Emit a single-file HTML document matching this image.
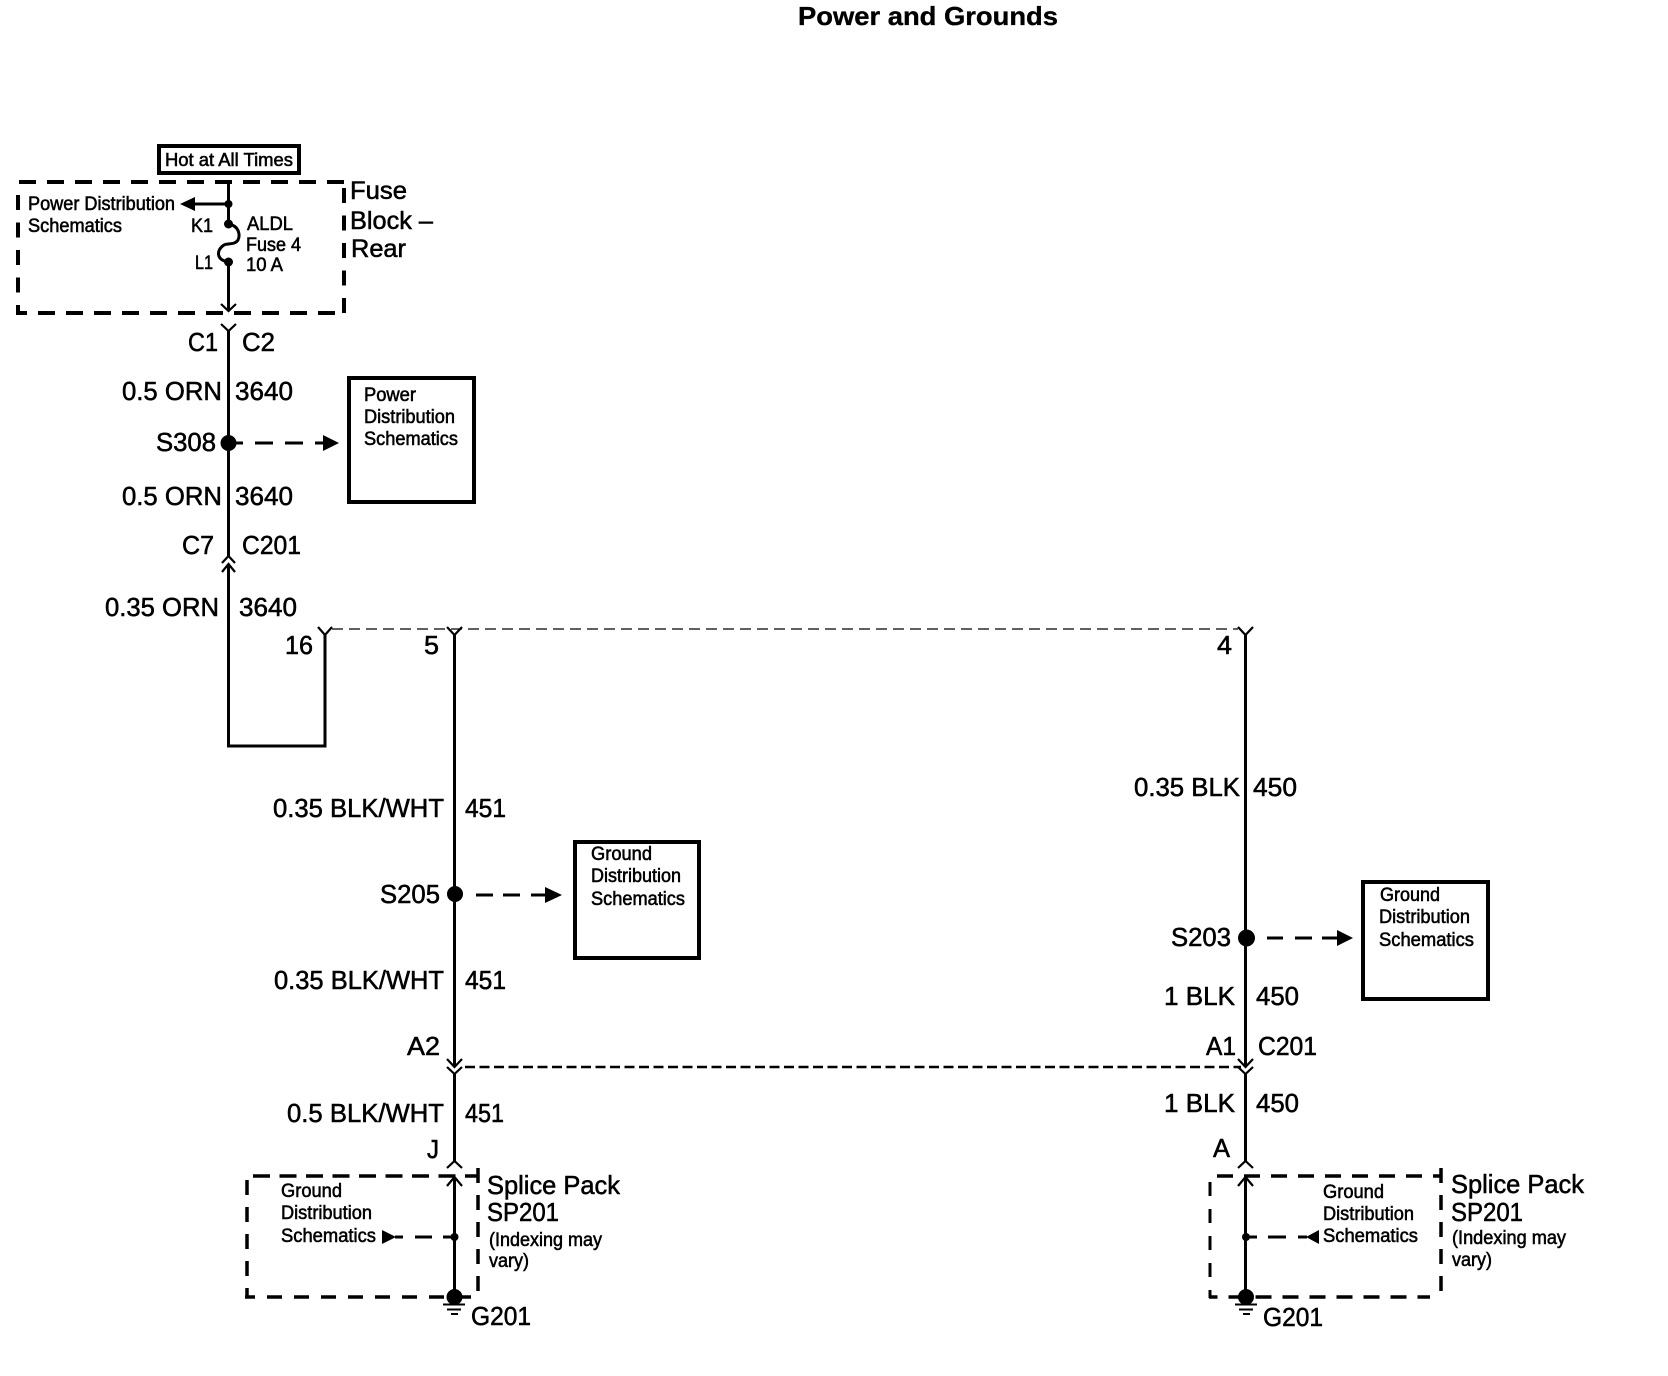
<!DOCTYPE html>
<html><head><meta charset="utf-8"><title>Power and Grounds</title>
<style>
html,body{margin:0;padding:0;background:#fff}
svg{display:block}
text{font-family:"Liberation Sans",sans-serif;fill:#000;stroke:#000;stroke-width:.55}
.s{font-size:18px}.l{font-size:26px}.m{font-size:25px}.n{font-size:19px}
.t{font-size:26px;font-weight:bold;stroke-width:.35}
.w{stroke:#000;stroke-width:3;fill:none}
.c{stroke:#000;stroke-width:2.2;fill:none}
.b{stroke:#000;stroke-width:4;fill:none}
.d{stroke:#000;stroke-width:4;fill:none;stroke-dasharray:17 11}
.e{stroke:#000;stroke-width:3.5;fill:none;stroke-dasharray:16 11}
.a{stroke:#000;stroke-width:3;fill:none}
</style></head><body>
<svg xmlns="http://www.w3.org/2000/svg" width="1668" height="1376" viewBox="0 0 1668 1376">
<rect width="1668" height="1376" fill="#fff"/>
<text class="t" x="798" y="25" textLength="260" lengthAdjust="spacingAndGlyphs">Power and Grounds</text>

<!-- Hot box -->
<rect class="b" x="159" y="146" width="140" height="27"/>
<text class="s" x="165" y="166" textLength="128" lengthAdjust="spacingAndGlyphs">Hot at All Times</text>

<!-- Fuse block dashed -->
<line class="d" x1="19" y1="182" x2="344" y2="182"/>
<line class="d" x1="344" y1="188" x2="344" y2="314" style="stroke-dasharray:15 12.5"/>
<line class="d" x1="18" y1="195" x2="18" y2="314" style="stroke-dasharray:15 12.5"/>
<line class="d" x1="16" y1="313" x2="346" y2="313" style="stroke-dashoffset:6"/>
<text class="n" x="28" y="210" textLength="147" lengthAdjust="spacingAndGlyphs">Power Distribution</text>
<text class="n" x="28" y="232" textLength="94" lengthAdjust="spacingAndGlyphs">Schematics</text>
<text class="n" x="191" y="232" textLength="22" lengthAdjust="spacingAndGlyphs">K1</text>
<text class="n" x="195" y="269" textLength="18" lengthAdjust="spacingAndGlyphs">L1</text>
<text class="n" x="247" y="230" textLength="46" lengthAdjust="spacingAndGlyphs">ALDL</text>
<text class="n" x="246" y="251" textLength="55" lengthAdjust="spacingAndGlyphs">Fuse 4</text>
<text class="n" x="246" y="271" textLength="37" lengthAdjust="spacingAndGlyphs">10 A</text>
<text class="m" x="350" y="199" textLength="57" lengthAdjust="spacingAndGlyphs">Fuse</text>
<text class="m" x="350" y="229" textLength="83" lengthAdjust="spacingAndGlyphs">Block –</text>
<text class="m" x="351" y="257" textLength="55" lengthAdjust="spacingAndGlyphs">Rear</text>

<path class="w" d="M228.500 182V224M228.500 262V311"/>
<path class="w" d="M228.500 224C240 226 240 236 238 240C235 245 228 243 224 245C216 250 216 260 228.500 262"/>
<line class="a" x1="195" y1="204" x2="228" y2="204"/>
<polygon points="180,204 195,197 195,211" fill="#000"/>
<circle cx="228.500" cy="204" r="4"/>
<circle cx="228.500" cy="224" r="4.500"/>
<circle cx="228.500" cy="262" r="4.500"/>
<path class="c" d="M221 304L228.500 311L236 304"/>

<!-- C1 C2 -->
<path class="c" d="M221 324L228.500 331L236 324"/>
<line class="w" x1="228.500" y1="331" x2="228.500" y2="556"/>
<text class="l" x="188" y="351" textLength="30" lengthAdjust="spacingAndGlyphs">C1</text>
<text class="l" x="242" y="351" textLength="33" lengthAdjust="spacingAndGlyphs">C2</text>
<text class="l" x="122" y="400" textLength="100" lengthAdjust="spacingAndGlyphs">0.5 ORN</text>
<text class="l" x="235" y="400" textLength="58" lengthAdjust="spacingAndGlyphs">3640</text>
<text class="l" x="156" y="451" textLength="60" lengthAdjust="spacingAndGlyphs">S308</text>
<circle cx="228.500" cy="443" r="8"/>
<path class="a" d="M236 443H243M255 443H273M285 443H303M315 443H323"/>
<polygon points="323,435 339,443 323,451" fill="#000"/>
<rect class="b" x="349" y="378" width="125" height="124"/>
<text class="n" x="364" y="401" textLength="52" lengthAdjust="spacingAndGlyphs">Power</text>
<text class="n" x="364" y="423" textLength="91" lengthAdjust="spacingAndGlyphs">Distribution</text>
<text class="n" x="364" y="445" textLength="94" lengthAdjust="spacingAndGlyphs">Schematics</text>
<text class="l" x="122" y="505" textLength="100" lengthAdjust="spacingAndGlyphs">0.5 ORN</text>
<text class="l" x="235" y="505" textLength="58" lengthAdjust="spacingAndGlyphs">3640</text>

<!-- C7 -->
<text class="l" x="182" y="554" textLength="32" lengthAdjust="spacingAndGlyphs">C7</text>
<text class="l" x="242" y="554" textLength="59" lengthAdjust="spacingAndGlyphs">C201</text>
<path class="c" d="M222 563L228.500 556L235 563"/>
<path class="c" d="M222 572L228.500 564L235 572"/>
<path class="w" d="M228.500 564V746H325V634"/>
<text class="l" x="105" y="616" textLength="114" lengthAdjust="spacingAndGlyphs">0.35 ORN</text>
<text class="l" x="239" y="616" textLength="58" lengthAdjust="spacingAndGlyphs">3640</text>

<!-- thin dashed -->
<line x1="332" y1="629" x2="1238" y2="629" stroke="#000" stroke-width="1.200" stroke-dasharray="11 6"/>
<path class="c" d="M318 627L325 635L332 627"/>
<path class="c" d="M447 627L454.500 635L462 627"/>
<path class="c" d="M1238 627L1245.500 635L1253 627"/>
<text class="l" x="285" y="654" textLength="28" lengthAdjust="spacingAndGlyphs">16</text>
<text class="l" x="424" y="654" textLength="15" lengthAdjust="spacingAndGlyphs">5</text>
<text class="l" x="1217" y="654" textLength="15" lengthAdjust="spacingAndGlyphs">4</text>

<!-- left wire 451 -->
<line class="w" x1="454.500" y1="635" x2="454.500" y2="1066"/>
<text class="l" x="273" y="817" textLength="171" lengthAdjust="spacingAndGlyphs">0.35 BLK/WHT</text>
<text class="l" x="465" y="817" textLength="41" lengthAdjust="spacingAndGlyphs">451</text>
<text class="l" x="380" y="903" textLength="60" lengthAdjust="spacingAndGlyphs">S205</text>
<circle cx="455" cy="894" r="8"/>
<path class="a" d="M476 895H493M503 895H520M531 895H546"/>
<polygon points="545,887 562,895 545,903" fill="#000"/>
<rect class="b" x="575" y="842" width="124" height="116"/>
<text class="n" x="591" y="860" textLength="61" lengthAdjust="spacingAndGlyphs">Ground</text>
<text class="n" x="591" y="882" textLength="90" lengthAdjust="spacingAndGlyphs">Distribution</text>
<text class="n" x="591" y="905" textLength="94" lengthAdjust="spacingAndGlyphs">Schematics</text>
<text class="l" x="274" y="989" textLength="170" lengthAdjust="spacingAndGlyphs">0.35 BLK/WHT</text>
<text class="l" x="465" y="989" textLength="41" lengthAdjust="spacingAndGlyphs">451</text>
<text class="l" x="407" y="1055" textLength="33" lengthAdjust="spacingAndGlyphs">A2</text>

<!-- C201 dashed -->
<line x1="465" y1="1067" x2="1241" y2="1067" stroke="#000" stroke-width="2.500" stroke-dasharray="10 4.500"/>
<path class="c" d="M447 1059L454.500 1067L462 1059"/>
<path class="c" d="M447 1067L454.500 1074L462 1067"/>
<path class="c" d="M1238 1059L1245.500 1067L1253 1059"/>
<path class="c" d="M1238 1067L1245.500 1074L1253 1067"/>

<line class="w" x1="454.500" y1="1074" x2="454.500" y2="1162"/>
<text class="l" x="287" y="1122" textLength="157" lengthAdjust="spacingAndGlyphs">0.5 BLK/WHT</text>
<text class="l" x="465" y="1122" textLength="39" lengthAdjust="spacingAndGlyphs">451</text>
<text class="l" x="427" y="1158" textLength="12" lengthAdjust="spacingAndGlyphs">J</text>
<path class="c" d="M447 1168L454.500 1161L462 1168"/>

<!-- SP201 left -->
<line class="e" x1="253" y1="1176" x2="478" y2="1176" style="stroke-dasharray:17 9.500"/>
<line class="e" x1="478" y1="1168" x2="478" y2="1293" style="stroke-dasharray:15 12;stroke-dashoffset:0"/>
<line class="e" x1="247" y1="1180" x2="247" y2="1298" style="stroke-dasharray:15 12"/>
<line class="e" x1="245" y1="1297" x2="475" y2="1297" style="stroke-dasharray:15 12;stroke-dashoffset:5"/>
<path class="c" d="M447 1186L454.500 1177L462 1186"/>
<line class="w" x1="454.500" y1="1177" x2="454.500" y2="1297"/>
<text class="n" x="281" y="1197" textLength="61" lengthAdjust="spacingAndGlyphs">Ground</text>
<text class="n" x="281" y="1219" textLength="91" lengthAdjust="spacingAndGlyphs">Distribution</text>
<text class="n" x="281" y="1242" textLength="95" lengthAdjust="spacingAndGlyphs">Schematics</text>
<polygon points="382,1230 396,1237 382,1244" fill="#000"/>
<path class="a" d="M395 1237H403M415 1237H432M443 1237H454"/>
<circle cx="454.500" cy="1237" r="4"/>
<circle cx="454.500" cy="1297" r="8"/>
<path d="M443 1304.500H465M447 1309.500H461M451 1314H458" stroke="#000" stroke-width="2" fill="none"/>
<text class="l" x="471" y="1325" textLength="60" lengthAdjust="spacingAndGlyphs">G201</text>
<text class="l" x="487" y="1194" textLength="133" lengthAdjust="spacingAndGlyphs">Splice Pack</text>
<text class="l" x="487" y="1221" textLength="72" lengthAdjust="spacingAndGlyphs">SP201</text>
<text class="n" x="489" y="1246" textLength="113" lengthAdjust="spacingAndGlyphs">(Indexing may</text>
<text class="n" x="489" y="1267" textLength="40" lengthAdjust="spacingAndGlyphs">vary)</text>

<!-- right wire 450 -->
<line class="w" x1="1245.500" y1="635" x2="1245.500" y2="1066"/>
<text class="l" x="1134" y="796" textLength="106" lengthAdjust="spacingAndGlyphs">0.35 BLK</text>
<text class="l" x="1253" y="796" textLength="44" lengthAdjust="spacingAndGlyphs">450</text>
<text class="l" x="1171" y="946" textLength="60" lengthAdjust="spacingAndGlyphs">S203</text>
<circle cx="1246.500" cy="938" r="8.500"/>
<path class="a" d="M1267 938H1283M1295 938H1312M1322 938H1338"/>
<polygon points="1337,930 1353,938 1337,946" fill="#000"/>
<rect class="b" x="1363" y="882" width="125" height="117"/>
<text class="n" x="1380" y="901" textLength="60" lengthAdjust="spacingAndGlyphs">Ground</text>
<text class="n" x="1379" y="923" textLength="91" lengthAdjust="spacingAndGlyphs">Distribution</text>
<text class="n" x="1379" y="946" textLength="95" lengthAdjust="spacingAndGlyphs">Schematics</text>
<text class="l" x="1164" y="1005" textLength="71" lengthAdjust="spacingAndGlyphs">1 BLK</text>
<text class="l" x="1256" y="1005" textLength="43" lengthAdjust="spacingAndGlyphs">450</text>
<text class="l" x="1206" y="1055" textLength="30" lengthAdjust="spacingAndGlyphs">A1</text>
<text class="l" x="1258" y="1055" textLength="59" lengthAdjust="spacingAndGlyphs">C201</text>
<line class="w" x1="1245.500" y1="1074" x2="1245.500" y2="1162"/>
<text class="l" x="1164" y="1112" textLength="71" lengthAdjust="spacingAndGlyphs">1 BLK</text>
<text class="l" x="1256" y="1112" textLength="43" lengthAdjust="spacingAndGlyphs">450</text>
<text class="l" x="1213" y="1157" textLength="17" lengthAdjust="spacingAndGlyphs">A</text>
<path class="c" d="M1238 1168L1245.500 1161L1253 1168"/>

<!-- SP201 right -->
<line class="e" x1="1217" y1="1176" x2="1442" y2="1176"/>
<line class="e" x1="1441" y1="1168" x2="1441" y2="1293" style="stroke-dasharray:15 12"/>
<line x1="1210" y1="1182" x2="1210" y2="1298" stroke="#000" stroke-width="3" stroke-dasharray="14 13"/>
<line class="e" x1="1209" y1="1297" x2="1430" y2="1297" style="stroke-dashoffset:7.500"/>
<path class="c" d="M1238 1186L1245.500 1177L1253 1186"/>
<line class="w" x1="1245.500" y1="1177" x2="1245.500" y2="1297"/>
<text class="n" x="1323" y="1198" textLength="61" lengthAdjust="spacingAndGlyphs">Ground</text>
<text class="n" x="1323" y="1220" textLength="91" lengthAdjust="spacingAndGlyphs">Distribution</text>
<text class="n" x="1323" y="1242" textLength="95" lengthAdjust="spacingAndGlyphs">Schematics</text>
<polygon points="1319,1230 1306,1237 1319,1244" fill="#000"/>
<path class="a" d="M1246 1237H1257M1268 1237H1286M1298 1237H1307"/>
<circle cx="1246" cy="1237" r="4"/>
<circle cx="1246" cy="1297" r="8"/>
<path d="M1235 1304.500H1257M1239 1309.500H1253M1243 1314H1250" stroke="#000" stroke-width="2" fill="none"/>
<text class="l" x="1263" y="1326" textLength="60" lengthAdjust="spacingAndGlyphs">G201</text>
<text class="l" x="1451" y="1193" textLength="133" lengthAdjust="spacingAndGlyphs">Splice Pack</text>
<text class="l" x="1451" y="1221" textLength="72" lengthAdjust="spacingAndGlyphs">SP201</text>
<text class="n" x="1452" y="1244" textLength="114" lengthAdjust="spacingAndGlyphs">(Indexing may</text>
<text class="n" x="1452" y="1266" textLength="40" lengthAdjust="spacingAndGlyphs">vary)</text>
</svg>
</body></html>
